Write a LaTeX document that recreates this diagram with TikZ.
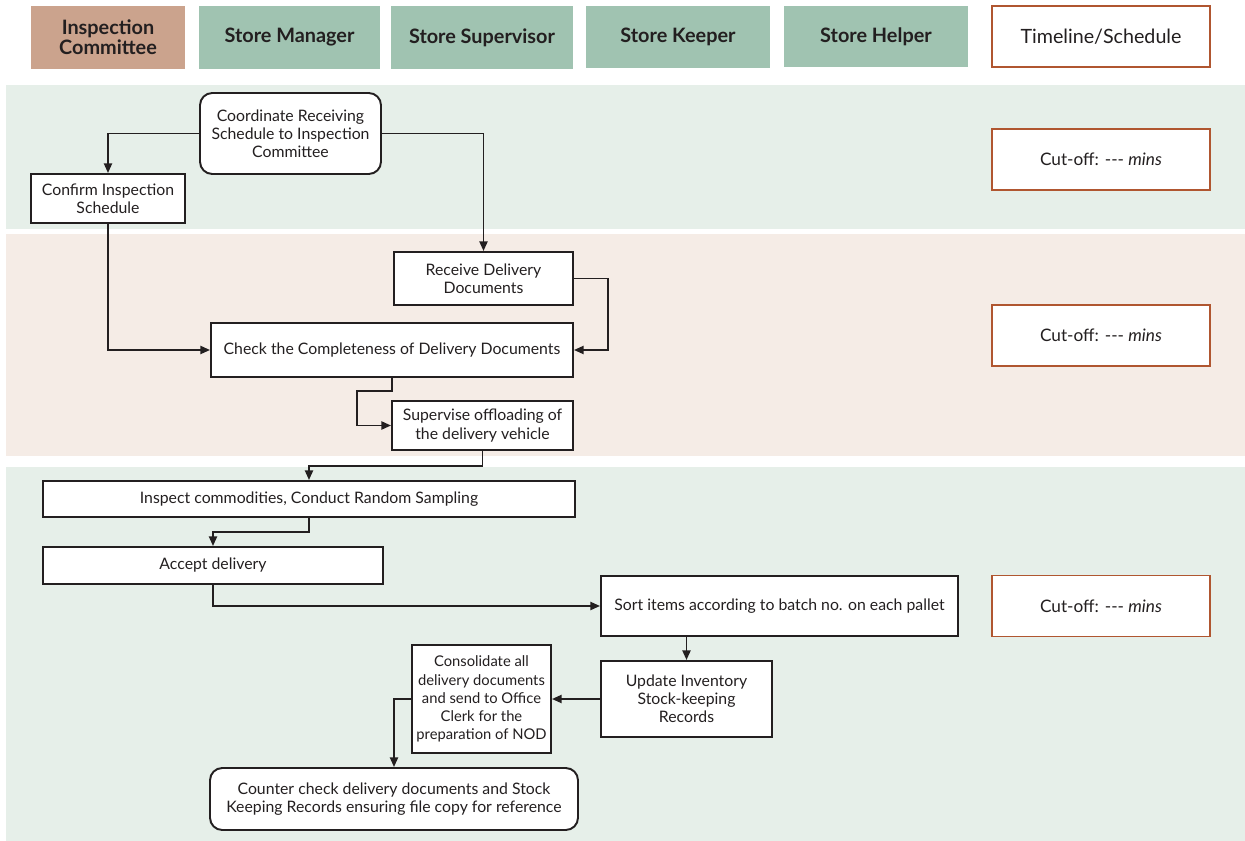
\documentclass[tikz,border=0pt]{standalone}
\usepackage{fontspec}
\setmainfont{Lato}
\usetikzlibrary{arrows.meta,calc}
\definecolor{inkc}{HTML}{231F20}
\definecolor{tanhead}{HTML}{CBA38D}
\definecolor{greenhead}{HTML}{A0C3B1}
\definecolor{greenband}{HTML}{E6EFE9}
\definecolor{pinkband}{HTML}{F5ECE6}
\definecolor{rust}{HTML}{B05630}
\newcommand{\cutoff}{Cut-off: -{}-{}- \textit{mins}}
\begin{document}
\begin{tikzpicture}[x=0.02cm,y=-0.02cm,
  wh/.style 2 args={minimum width=#1*0.02cm, minimum height=#2*0.02cm},
  head/.style={inner sep=0pt, font=\fontsize{11.3}{12.3}\selectfont\bfseries, text=inkc, align=center},
  timebox/.style={draw=rust, line width=1pt, fill=white, inner sep=0pt, text=inkc, align=center},
  stepbox/.style={draw=inkc, line width=1.1pt, fill=white, inner sep=0pt, text=inkc, align=center,
    font=\fontsize{9}{10.3}\selectfont},
  roundbox/.style={stepbox, rounded corners=7pt},
  flow/.style={draw=inkc, line width=1.1pt, -{Triangle[length=5.5pt,width=4.6pt]}}
]
\useasboundingbox (0,0) rectangle (1245,841);

% horizontal bands
\fill[greenband] (6,85) rectangle (1245,229);
\fill[pinkband] (6,234) rectangle (1245,456);
\fill[greenband] (6,467) rectangle (1245,841);

% lane headers
\node[head, fill=tanhead, wh={154}{63}] (hic) at (108,37.5) {Inspection\\[-1pt]Committee};
\node[head, fill=greenhead, wh={181}{63}] (hsm) at (289.5,37.5) {Store Manager};
\node[head, fill=greenhead, wh={182}{63}] (hss) at (482,37.5) {Store Supervisor};
\node[head, fill=greenhead, wh={184}{62}] (hsk) at (678,37) {Store Keeper};
\node[head, fill=greenhead, wh={184}{61}] (hsh) at (876,36.5) {Store Helper};
\node[timebox, wh={218}{61}, font=\fontsize{11.2}{12}\selectfont] (htl) at (1101,36.5) {Timeline/Schedule};

% cut-off boxes
\node[timebox, wh={218}{61}, font=\fontsize{9.8}{11}\selectfont] (cut1) at (1101,159.5) {\cutoff};
\node[timebox, wh={218}{61}, font=\fontsize{9.8}{11}\selectfont] (cut2) at (1101,335.5) {\cutoff};
\node[timebox, wh={218}{61}, font=\fontsize{9.8}{11}\selectfont] (cut3) at (1101,606) {\cutoff};

% process steps
\node[roundbox, wh={181}{81}] (coord) at (290.5,133.5) {Coordinate Receiving\\Schedule to Inspection\\Committee};
\node[stepbox, wh={154}{49}] (confirm) at (108,198.5) {Confirm Inspection\\Schedule};
\node[stepbox, wh={179}{53}] (receive) at (483.5,278.5) {Receive Delivery\\Documents};
\node[stepbox, wh={362}{54}] (check) at (392,350) {Check the Completeness of Delivery Documents};
\node[stepbox, wh={181}{49}] (supervise) at (482.5,425.5) {Supervise offloading of\\the delivery vehicle};
\node[stepbox, wh={532}{36}] (inspect) at (309,499) {Inspect commodities, Conduct Random Sampling};
\node[stepbox, wh={340}{37}] (accept) at (213,565.5) {Accept delivery};
\node[stepbox, wh={357}{60}] (sort) at (779.5,606) {Sort items according to batch no. on each pallet};
\node[stepbox, wh={171}{76}] (update) at (686.5,699) {Update Inventory\\Stock-keeping\\Records};
\node[stepbox, wh={139}{108}, font=\fontsize{8.4}{10.3}\selectfont] (consol) at (481.5,699) {Consolidate all\\delivery documents\\and send to Office\\Clerk for the\\preparation of NOD};
\node[roundbox, wh={368}{62}] (counter) at (394,799) {Counter check delivery documents and Stock\\Keeping Records ensuring file copy for reference};

% connectors
\draw[flow] (coord.west) -| (confirm.north);
\draw[flow] (coord.east) -| (receive.north);
\draw[flow] (confirm.south) |- (check.west);
\draw[flow] (receive.east) -- ++(34,0) |- (check.east);
\draw[flow] (check.south) -- ++(0,13) -- ++(-35,0) |- (supervise.west);
\draw[flow] (supervise.south) -- ++(0,15) -| (inspect.north);
\draw[flow] (inspect.south) -- ++(0,14) -| (accept.north);
\draw[flow] (accept.south) |- (sort.west);
\draw[flow] (sort.south -| update.north) -- (update.north);
\draw[flow] (update.west) -- (consol.east);
\draw[flow] (consol.west) -| (counter.north);
\end{tikzpicture}
\end{document}
